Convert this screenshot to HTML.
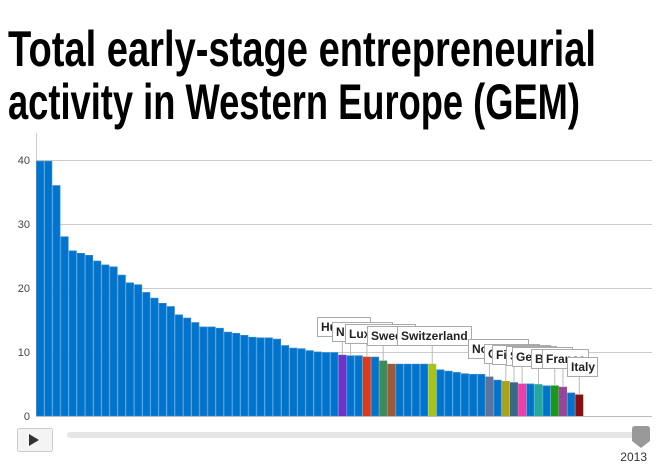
<!DOCTYPE html>
<html><head><meta charset="utf-8"><style>
body{margin:0;background:#fff;}
svg{display:block;font-family:"Liberation Sans",Arial,sans-serif;}
</style></head><body>
<svg width="661" height="468" viewBox="0 0 661 468">
<text x="8" y="66" font-size="50" font-weight="bold" textLength="588" lengthAdjust="spacingAndGlyphs" fill="#000">Total early-stage entrepreneurial</text>
<text x="8" y="119" font-size="50" font-weight="bold" textLength="572" lengthAdjust="spacingAndGlyphs" fill="#000">activity in Western Europe (GEM)</text>
<g stroke="#ccc" stroke-width="1">
<line x1="36" y1="160.5" x2="652" y2="160.5"/>
<line x1="36" y1="224.5" x2="652" y2="224.5"/>
<line x1="36" y1="288.5" x2="652" y2="288.5"/>
<line x1="36" y1="352.5" x2="652" y2="352.5"/>
<line x1="36.5" y1="133" x2="36.5" y2="416"/>
</g>
<g font-size="11" fill="#444" text-anchor="end">
<text x="30" y="164">40</text><text x="30" y="228">30</text><text x="30" y="292">20</text><text x="30" y="356">10</text><text x="30" y="420">0</text>
</g>
<g id="bars"></g>
<line x1="36" y1="416.5" x2="652" y2="416.5" stroke="#bbb"/>
<g id="labels"></g>
<rect x="17.5" y="428.5" width="35" height="23" rx="2" fill="#f4f4f4" stroke="#ccc"/>
<polygon points="29,434 29,446 39,440" fill="#333"/>
<rect x="67" y="432" width="574" height="6" rx="3" fill="#e6e6e6"/>
<path d="M632,429 Q632,426 635,426 L647,426 Q650,426 650,429 L650,441 L641,448 L632,441 Z" fill="#999"/>
<text x="647" y="461" font-size="12" fill="#333" text-anchor="end">2013</text>
</svg>
<script>
var v=[39.8,39.8,36,28,25.8,25.4,25.1,24.2,23.6,23.3,22,20.8,20.5,19.3,18.4,17.6,17.1,15.8,15.3,14.6,13.9,13.9,13.7,13.1,12.9,12.6,12.3,12.2,12.2,12,11,10.6,10.5,10.2,10,9.9,9.9,
9.5,9.4,9.4,9.2,9.2,8.6,8.1,8.1,8.1,8.1,8.1,8.1,7.2,7.0,6.8,6.6,6.5,6.5,6.1,5.6,5.4,5.2,5.0,5.0,4.9,4.7,4.7,4.5,3.6,3.3];
var c={37:"#6d33c7",40:"#dd3b17",42:"#3b8c5a",43:"#9b5a3a",48:"#a8c21c",55:"#5a74a0",57:"#aaa21c",58:"#3a6688",59:"#ef3fa6",61:"#24a898",63:"#1c961c",64:"#994499",66:"#8b0e0e"};
var s="",w=8.17;
for(var i=0;i<v.length;i++){var x=36+i*w,y=416-v[i]*6.4;
s+='<rect x="'+(x+0.5).toFixed(2)+'" y="'+y.toFixed(1)+'" width="'+(w-1).toFixed(2)+'" height="'+(416-y).toFixed(1)+'" fill="'+(c[i]||"#0074cc")+'" stroke="'+(c[i]?c[i]:"#2a86d0")+'" stroke-width="0.8"/>';}
document.getElementById("bars").innerHTML=s;
var L=[["Hungary",317,317,53,37],["Netherlands",332,322,60,38],["Luxembourg",345,324,70,40],["Sweden",367,326,55,42],["Switzerland",397,326,74,48],["Norway",468,339,60,55],["Other",484,344,55,57],["Finland",492,345,58,58],["Spain",506,346,50,59],["Germany",512,347,60,61],["Belgium",531,349,55,63],["France",542,349,46,64],["Italy",567,357,30,66]];
var t="";
for(var k=0;k<L.length;k++){var a=L[k],bx=36+a[4]*w+w/2,by=416-v[a[4]]*6.4;
t+='<line x1="'+bx+'" y1="'+(a[2]+19)+'" x2="'+bx+'" y2="'+by+'" stroke="#bbb"/>';}
for(var k=0;k<L.length;k++){var a=L[k];
t+='<rect x="'+(a[1]+0.5)+'" y="'+(a[2]+0.5)+'" width="'+a[3]+'" height="19" fill="#fff" stroke="#aaa"/><text x="'+(a[1]+4)+'" y="'+(a[2]+14)+'" font-size="12" font-weight="bold" fill="#222">'+a[0]+'</text>';}
document.getElementById("labels").innerHTML=t;
</script>
</body></html>
